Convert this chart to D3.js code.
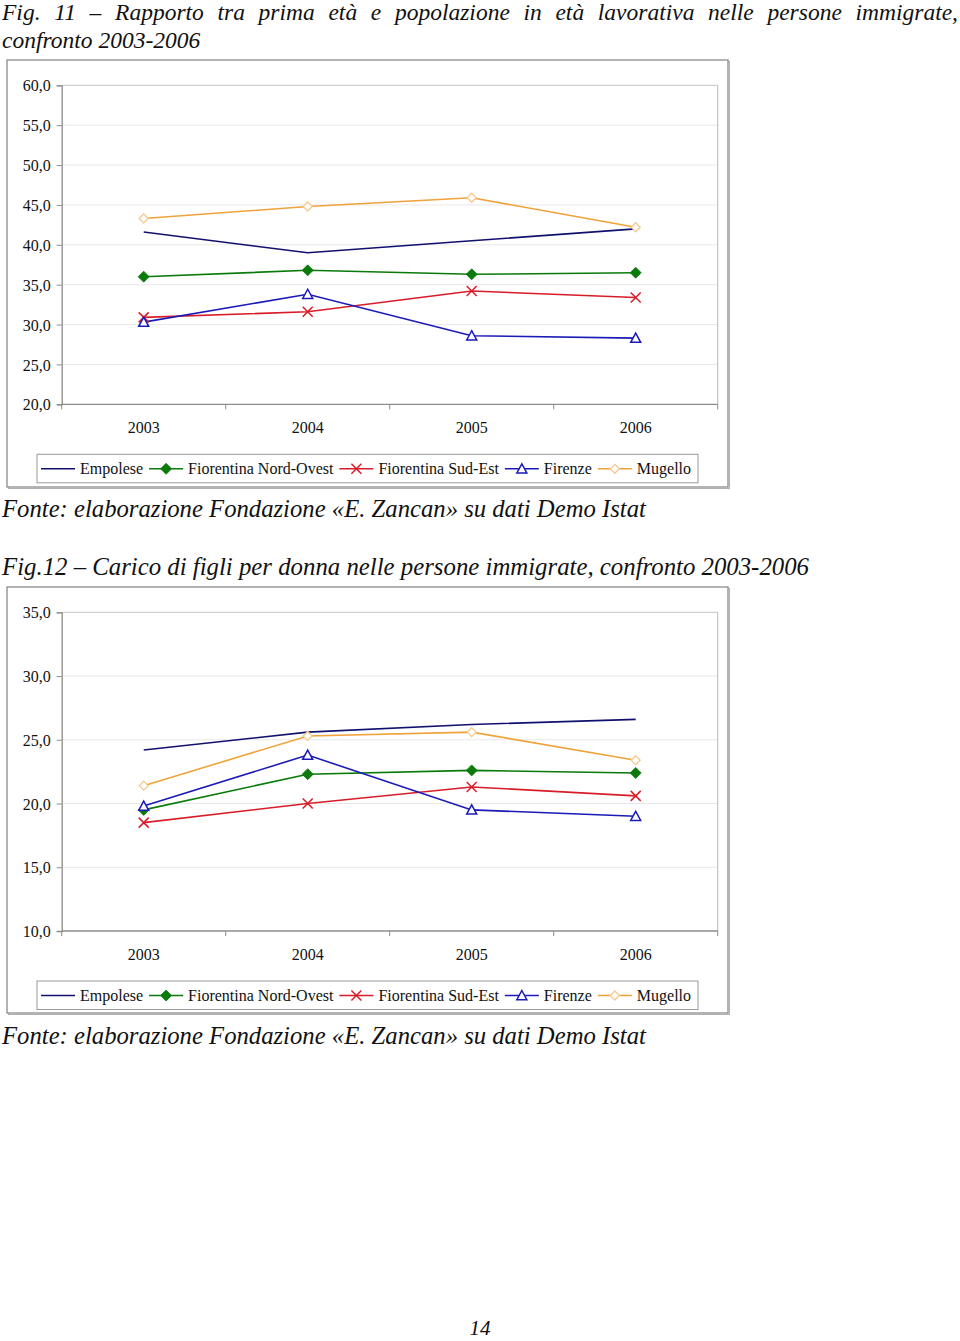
<!DOCTYPE html>
<html>
<head>
<meta charset="utf-8">
<script src="https://cdn.jsdelivr.net/npm/d3@7/dist/d3.min.js"></script>
<style>
  html, body { margin: 0; padding: 0; background: #fff; }
  svg { display: block; }
</style>
</head>
<body>
<svg id="page" width="960" height="1341"></svg>
<script>
// ---------- DATA ----------
const years = ["2003", "2004", "2005", "2006"];
const seriesNames = ["Empolese", "Fiorentina Nord-Ovest", "Fiorentina Sud-Est", "Firenze", "Mugello"];

// Fig. 11 – rapporto prima età / popolazione in età lavorativa
const fig11Empolese  = [41.6, 39.0, 40.5, 42.0];
const fig11NordOvest = [36.0, 36.8, 36.3, 36.5];
const fig11SudEst    = [30.9, 31.6, 34.2, 33.4];
const fig11Firenze   = [30.3, 33.8, 28.6, 28.3];
const fig11Mugello   = [43.3, 44.8, 45.9, 42.2];
const fig11Ticks = [20, 25, 30, 35, 40, 45, 50, 55, 60];

// Fig. 12 – carico di figli per donna
const fig12Empolese  = [24.2, 25.6, 26.2, 26.6];
const fig12NordOvest = [19.5, 22.3, 22.6, 22.4];
const fig12SudEst    = [18.5, 20.0, 21.3, 20.6];
const fig12Firenze   = [19.8, 23.8, 19.5, 19.0];
const fig12Mugello   = [21.4, 25.3, 25.6, 23.4];
const fig12Ticks = [10, 15, 20, 25, 30, 35];

const title11Line1 = ["Fig.", "11", "–", "Rapporto", "tra", "prima", "età", "e", "popolazione", "in", "età", "lavorativa", "nelle", "persone", "immigrate,"];
const title11Line2 = "confronto 2003-2006";
const title12 = "Fig.12 – Carico di figli per donna nelle persone immigrate, confronto 2003-2006";
const sourceText = "Fonte: elaborazione Fondazione «E. Zancan» su dati Demo Istat";
const pageNumber = "14";

// ---------- STYLES ----------
const seriesStyle = [
  { color: "#10106e", marker: null },
  { color: "#0a7a0a", marker: "diamondFilled" },
  { color: "#d81c28", marker: "cross" },
  { color: "#1a1ab8", marker: "triangle" },
  { color: "#f0a23a", marker: "diamondOpen", markerStroke: "#f6c98e" }
];
const serif = "'Liberation Serif', 'Times New Roman', serif";

const svg = d3.select("#page");

function markerPath(type) {
  switch (type) {
    case "diamondFilled": return "M0,-5.5L5.5,0L0,5.5L-5.5,0Z";
    case "diamondOpen":   return "M0,-4.5L4.5,0L0,4.5L-4.5,0Z";
    case "cross":         return "M-5,-5L5,5M5,-5L-5,5";
    case "triangle":      return "M0,-5L5,4.2L-5,4.2Z";
  }
  return null;
}

function drawMarker(g, type, st, x, y) {
  const p = markerPath(type);
  if (!p) return;
  const m = g.append("path").attr("d", p).attr("transform", `translate(${x},${y})`);
  if (type === "diamondFilled") m.attr("fill", st.color).attr("stroke", st.color).attr("stroke-width", 0.8);
  else if (type === "cross") m.attr("fill", "none").attr("stroke", st.color).attr("stroke-width", 1.5);
  else if (type === "triangle") m.attr("fill", "#fff").attr("stroke", st.color).attr("stroke-width", 1.5);
  else if (type === "diamondOpen") m.attr("fill", "#fff").attr("stroke", st.markerStroke).attr("stroke-width", 1.3);
}

const fmt = v => d3.format(".1f")(v).replace(".", ",");

function drawChart(cfg) {
  const { frameTop, frameBottom, plotTop, plotBottom, ticks, data, legendTop } = cfg;
  const plotLeft = 61.7, plotRight = 717.7;

  // outer frame with slight shadow
  svg.append("rect").attr("x", 8.5).attr("y", frameTop + 1.5).attr("width", 721).attr("height", frameBottom - frameTop)
    .attr("fill", "none").attr("stroke", "#b0b0b0").attr("stroke-width", 1);
  svg.append("rect").attr("x", 7).attr("y", frameTop).attr("width", 721).attr("height", frameBottom - frameTop)
    .attr("fill", "#fff").attr("stroke", "#8a8a8a").attr("stroke-width", 1.3);

  const g = svg.append("g");
  const x = d3.scaleBand().domain(years).range([plotLeft, plotRight]).padding(0);
  const y = d3.scaleLinear().domain([ticks[0], ticks[ticks.length - 1]]).range([plotBottom, plotTop]);
  const cx = d => x(d) + x.bandwidth() / 2;

  // gridlines
  g.append("g").selectAll("line").data(ticks.slice(1)).join("line")
    .attr("x1", plotLeft).attr("x2", plotRight)
    .attr("y1", d => y(d)).attr("y2", d => y(d))
    .attr("stroke", d => d === ticks[ticks.length - 1] ? "#c4c4c4" : "#e8e8e8").attr("stroke-width", 1);
  // right border of plot area
  g.append("line").attr("x1", plotRight).attr("x2", plotRight).attr("y1", plotTop).attr("y2", plotBottom)
    .attr("stroke", "#c4c4c4").attr("stroke-width", 1.2);

  // y axis
  const yAxis = d3.axisLeft(y).tickValues(ticks).tickFormat(fmt).tickSize(5).tickPadding(6);
  const ya = g.append("g").attr("transform", `translate(${plotLeft},0)`).call(yAxis);
  ya.select(".domain").attr("stroke", "#8c8c8c").attr("stroke-width", 1.3);
  ya.selectAll(".tick line").attr("stroke", "#8c8c8c");
  ya.selectAll(".tick text").attr("font-family", serif).attr("font-size", 16).attr("fill", "#111").attr("dy", "0.35em");

  // x axis (ticks at category boundaries)
  const xa = g.append("g").attr("transform", `translate(0,${plotBottom})`);
  xa.append("line").attr("x1", plotLeft).attr("x2", plotRight).attr("stroke", "#8c8c8c").attr("stroke-width", 1.3);
  const bounds = years.map(d => x(d)).concat([plotRight]);
  xa.selectAll("line.tk").data(bounds).join("line").attr("class", "tk")
    .attr("x1", d => d).attr("x2", d => d).attr("y1", 0).attr("y2", 5).attr("stroke", "#8c8c8c");
  xa.selectAll("text").data(years).join("text")
    .attr("x", d => cx(d)).attr("y", 29).attr("text-anchor", "middle")
    .attr("font-family", serif).attr("font-size", 16).attr("fill", "#111").text(d => d);

  // series
  const line = d3.line().x((d, i) => cx(years[i])).y(d => y(d));
  data.forEach((vals, si) => {
    const st = seriesStyle[si];
    g.append("path").datum(vals).attr("d", line).attr("fill", "none")
      .attr("stroke", st.color).attr("stroke-width", 1.6);
  });
  data.forEach((vals, si) => {
    const st = seriesStyle[si];
    vals.forEach((v, i) => drawMarker(g, st.marker, st, cx(years[i]), y(v)));
  });

  // legend
  const lg = svg.append("g");
  lg.append("rect").attr("x", 37).attr("y", legendTop).attr("width", 661).attr("height", 28.5)
    .attr("fill", "#fff").attr("stroke", "#9a9a9a").attr("stroke-width", 1);
  let lx = 41;
  const ly = legendTop + 14.5;
  seriesNames.forEach((name, si) => {
    const st = seriesStyle[si];
    lg.append("line").attr("x1", lx).attr("x2", lx + 34).attr("y1", ly).attr("y2", ly)
      .attr("stroke", st.color).attr("stroke-width", 1.6);
    drawMarker(lg, st.marker, st, lx + 17, ly);
    const t = lg.append("text").attr("x", lx + 39).attr("y", ly + 5.5)
      .attr("font-family", serif).attr("font-size", 16).attr("fill", "#111").text(name);
    lx += 39 + t.node().getComputedTextLength() + 6;
  });
}

// ---------- TITLES ----------
function justifiedLine(words, x0, x1, yb, size) {
  const g = svg.append("g");
  const nodes = words.map(w => g.append("text").attr("y", yb).attr("font-family", serif)
    .attr("font-style", "italic").attr("font-size", size).attr("fill", "#111").text(w));
  const widths = nodes.map(n => n.node().getComputedTextLength());
  const total = d3.sum(widths);
  const gap = (x1 - x0 - total) / (words.length - 1);
  let cur = x0;
  nodes.forEach((n, i) => { n.attr("x", cur); cur += widths[i] + gap; });
}
function italicText(str, x, yb, size, anchor) {
  svg.append("text").attr("x", x).attr("y", yb).attr("font-family", serif).attr("font-style", "italic")
    .attr("font-size", size).attr("fill", "#111").attr("text-anchor", anchor || "start").text(str);
}

justifiedLine(title11Line1, 2, 958, 20, 23.5);
italicText(title11Line2, 2, 48, 23.5);

drawChart({
  frameTop: 60, frameBottom: 487, plotTop: 85.3, plotBottom: 404.3,
  ticks: fig11Ticks, legendTop: 454.3,
  data: [fig11Empolese, fig11NordOvest, fig11SudEst, fig11Firenze, fig11Mugello]
});
italicText(sourceText, 2, 517, 24.7);

italicText(title12, 2, 575, 24.8);
drawChart({
  frameTop: 587, frameBottom: 1013, plotTop: 612.3, plotBottom: 931,
  ticks: fig12Ticks, legendTop: 981,
  data: [fig12Empolese, fig12NordOvest, fig12SudEst, fig12Firenze, fig12Mugello]
});
italicText(sourceText, 2, 1044, 24.7);

italicText(pageNumber, 480, 1335, 21, "middle");
</script>
</body>
</html>
